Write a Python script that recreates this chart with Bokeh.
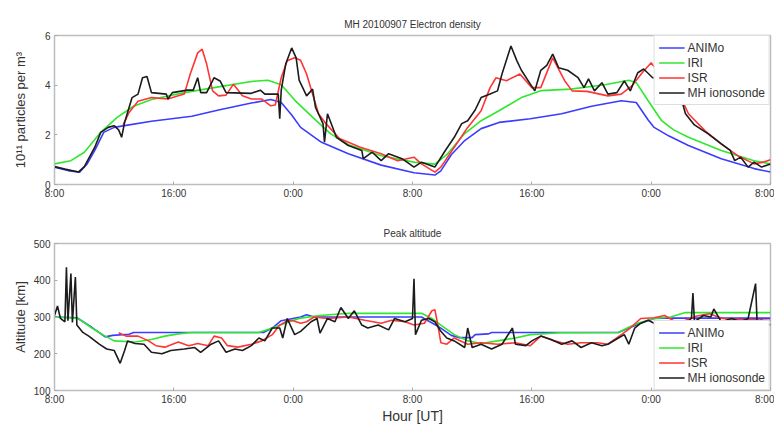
from bokeh.plotting import figure
from bokeh.layouts import column
from bokeh.models import FixedTicker, Legend, LegendItem, Range1d
from bokeh.embed import file_html
from bokeh.resources import INLINE

# ---------------- data ----------------
tick_hours = [0, 8, 16, 24, 32, 40, 48]
tick_labels = ["8:00", "16:00", "0:00", "8:00", "16:00", "0:00", "8:00"]
series_names = ["ANIMo", "IRI", "ISR", "MH ionosonde"]

# Electron density (1e11 m^-3)
ne_animo_h = [0, 0.9, 1.7, 2.2, 2.7, 3.3, 4.0, 4.7, 6.5, 9.2, 11.0, 13.2, 14.5, 15.2, 15.9, 16.5, 17.9,
              19.7, 21.9, 24.1, 25.5, 25.9, 26.6, 27.5, 28.6, 29.8, 31.9, 34.0, 36.0, 38.0, 39.0, 39.8,
              40.2, 41.2, 42.5, 44.7, 46.9, 48]
ne_animo = [0.70, 0.56, 0.50, 0.84, 1.37, 2.10, 2.30, 2.37, 2.55, 2.75, 3.00, 3.28, 3.42, 3.30, 2.80, 2.30,
            1.70, 1.24, 0.78, 0.47, 0.38, 0.55, 1.20, 1.77, 2.25, 2.50, 2.65, 2.85, 3.15, 3.37, 3.30, 2.60,
            2.30, 1.95, 1.57, 1.04, 0.64, 0.50]

ne_iri_h = [0, 1.1, 2.0, 3.1, 4.2, 5.3, 6.5, 8.7, 11.0, 13.2, 14.3, 15.2, 16.1, 17.4, 18.5, 19.7, 21.9,
            24.1, 25.5, 26.3, 27.5, 28.6, 29.8, 31.3, 32.6, 34.6, 36.9, 38.5, 39.0, 39.8, 40.7, 41.5,
            42.5, 44.7, 46.9, 48]
ne_iri = [0.83, 0.96, 1.30, 2.10, 2.70, 3.15, 3.42, 3.70, 3.93, 4.15, 4.20, 4.02, 3.40, 2.65, 2.05, 1.60,
          1.16, 0.90, 0.82, 1.20, 2.05, 2.57, 2.97, 3.50, 3.78, 3.84, 4.02, 4.20, 4.10, 3.37, 2.57, 2.20,
          1.90, 1.37, 0.96, 0.83]

ne_isr_h = [4.6, 5.0, 5.6, 6.5, 7.6, 8.3, 8.7, 9.1, 9.6, 9.9, 10.2, 10.6, 11.0, 11.5, 12.0, 12.6, 13.2,
            13.9, 14.5, 14.8, 15.2, 15.6, 16.1, 16.5, 16.9, 17.3, 17.7, 18.2, 19.1, 20.5, 21.9, 23.0,
            24.1, 24.6, 25.5, 25.9, 26.8, 27.7, 28.6, 29.2, 29.6, 30.3, 31.2, 32.0, 32.6, 33.4, 34.2,
            34.7, 35.7, 37.1, 38.0, 38.7, 39.4, 40.0, 40.5, 41.2, 42.0, 42.5, 43.6, 44.7, 45.8, 46.9,
            47.5, 48]
ne_isr = [2.40, 2.90, 3.35, 3.50, 3.44, 3.57, 3.64, 4.45, 5.30, 5.45, 4.85, 3.77, 3.57, 3.60, 4.04, 3.57,
          3.44, 3.44, 3.17, 3.20, 4.30, 4.98, 5.10, 5.00, 4.45, 3.64, 2.85, 2.45, 1.85, 1.50, 1.24, 0.96,
          1.10, 0.83, 0.50, 0.70, 1.50, 2.30, 2.97, 3.90, 4.30, 4.18, 4.45, 3.90, 3.90, 5.10, 4.18, 3.77,
          3.75, 3.57, 3.64, 3.97, 4.50, 4.90, 4.50, 4.00, 3.50, 2.85, 2.17, 1.64, 1.16, 0.83, 0.90, 1.00]

ne_mh_h = [0, 0.7, 1.6, 2.0, 2.7, 3.1, 3.6, 4.0, 4.3, 4.5, 4.7, 5.0, 5.2, 5.6, 5.9, 6.2, 6.5, 7.5, 7.6,
           7.9, 8.9, 9.3, 9.6, 9.8, 10.2, 10.7, 11.1, 11.5, 13.2, 13.8, 14.1, 15.0, 15.1, 15.2, 15.5,
           15.9, 16.2, 16.4, 16.9, 17.3, 17.5, 18.0, 18.1, 18.3, 18.9, 19.7, 20.6, 20.7, 21.3, 21.9,
           22.4, 23.3, 24.1, 24.6, 25.5, 26.2, 26.8, 27.3, 27.7, 28.2, 28.6, 29.2, 29.7, 30.0, 30.6,
           31.0, 31.3, 31.9, 32.2, 32.6, 33.0, 33.4, 33.8, 34.4, 35.1, 35.5, 35.8, 36.2, 36.7, 37.1,
           37.7, 38.2, 38.6, 39.1, 39.5, 40.1, 41.0, 42.0, 42.3, 42.9, 43.8, 44.7, 45.3, 45.6, 46.0,
           46.5, 46.9, 47.4, 48]
ne_mh = [0.72, 0.62, 0.50, 0.72, 1.50, 2.10, 2.30, 2.37, 2.20, 1.90, 2.50, 3.10, 3.50, 3.64, 4.30, 4.35,
         3.70, 3.64, 3.44, 3.70, 3.80, 3.80, 4.30, 3.70, 3.70, 4.30, 4.17, 3.70, 3.67, 3.80, 3.64, 3.64,
         2.65, 3.80, 4.85, 5.50, 5.10, 4.20, 3.57, 3.84, 3.10, 2.45, 1.70, 2.85, 1.90, 1.57, 1.37, 1.04,
         1.30, 0.96, 1.24, 1.04, 0.70, 0.90, 0.70, 1.37, 1.90, 2.45, 2.57, 3.00, 3.50, 3.64, 3.77, 4.45,
         5.58, 4.98, 4.60, 4.04, 3.77, 4.60, 4.80, 5.25, 4.70, 4.60, 4.30, 3.90, 4.25, 3.77, 4.10, 3.64,
         3.70, 4.17, 3.77, 4.50, 4.65, 4.30, 4.20, 3.50, 2.85, 2.40, 2.05, 1.64, 1.37, 0.96, 1.10, 0.70,
         0.90, 0.70, 0.83]

# Peak altitude (km)
hm_animo_h = [0, 1.5, 2.5, 3.4, 3.9, 5.0, 5.3, 14.0, 14.6, 15.2, 16.5, 16.9, 17.4, 24.6, 25.7, 26.6,
              27.1, 28.0, 28.2, 29.1, 29.3, 37.8, 38.5, 39.3, 40.2, 40.7, 48]
hm_animo = [300, 298, 272, 246, 250, 253, 258, 258, 270, 290, 300, 306, 300, 300, 275, 250, 244, 244,
            252, 254, 258, 258, 270, 283, 296, 297, 297]

hm_iri_h = [0, 1.6, 2.5, 3.4, 4.0, 5.4, 6.5, 7.4, 8.3, 9.2, 13.7, 14.6, 15.5, 16.5, 17.8, 19.7, 24.6,
            25.3, 25.9, 26.8, 27.7, 28.6, 29.7, 30.9, 31.9, 33.9, 37.8, 38.5, 39.1, 40.2, 41.3, 42.3, 48]
hm_iri = [300, 296, 270, 248, 235, 232, 239, 248, 254, 258, 258, 270, 284, 297, 304, 310, 310, 296, 278,
          252, 235, 228, 235, 243, 252, 257, 258, 272, 283, 296, 300, 312, 312]

hm_isr_h = [4.3, 4.8, 5.6, 6.3, 6.8, 7.4, 8.3, 9.0, 9.6, 10.3, 10.7, 11.2, 11.6, 12.3, 13.2, 13.9, 14.6,
            15.1, 15.5, 15.9, 16.5, 16.9, 17.4, 18.3, 19.7, 20.8, 21.9, 22.6, 23.5, 24.1, 24.8, 25.3,
            25.5, 25.7, 25.9, 26.3, 26.8, 27.7, 28.6, 29.7, 30.9, 31.9, 32.6, 33.5, 34.4, 35.3, 36.4,
            37.1, 38.0, 38.6, 39.3, 40.2, 40.9, 41.8, 43.0, 43.9, 44.8, 45.9, 48]
hm_isr = [257, 248, 248, 235, 222, 218, 232, 222, 228, 222, 248, 243, 222, 218, 226, 235, 252, 278, 287,
          291, 283, 287, 300, 296, 300, 291, 283, 291, 287, 278, 283, 317, 320, 278, 230, 226, 243, 226,
          230, 226, 230, 222, 248, 235, 226, 230, 230, 226, 252, 270, 296, 298, 304, 283, 302, 309, 296,
          294, 291]

hm_mh_h = [0, 0.2, 0.4, 0.7, 0.8, 0.9, 1.1, 1.2, 1.4, 1.5, 1.9, 2.3, 3.0, 3.5, 4.0, 4.4, 4.7, 4.9, 5.4,
           6.0, 6.5, 7.2, 7.8, 8.7, 9.4, 9.8, 10.5, 11.0, 11.5, 12.1, 12.6, 13.2, 13.7, 14.1, 14.6, 15.1,
           15.3, 15.6, 16.1, 16.5, 17.2, 17.6, 17.8, 18.3, 18.8, 19.2, 19.7, 20.1, 20.6, 21.0, 21.7,
           22.4, 22.8, 23.5, 24.0, 24.1, 24.2, 24.6, 25.1, 25.5, 25.9, 26.3, 26.8, 27.5, 27.7, 28.0,
           28.6, 29.3, 30.0, 30.7, 30.9, 31.6, 32.0, 32.6, 33.3, 34.0, 34.7, 35.3, 36.0, 36.7, 37.1,
           37.8, 38.2, 38.5, 38.9, 39.3, 39.8, 40.2, 40.7, 41.3, 42.0, 42.4, 42.7, 42.8, 42.9, 43.5,
           44.0, 44.2, 44.7, 45.4, 46.0, 46.5, 47.0, 47.1, 47.4, 48]
hm_mh = [304, 330, 296, 287, 435, 290, 418, 285, 409, 278, 258, 248, 226, 213, 209, 174, 209, 235, 228,
         226, 204, 200, 209, 213, 217, 204, 226, 235, 204, 213, 209, 222, 243, 235, 270, 270, 243, 296,
         252, 261, 287, 296, 256, 296, 287, 326, 296, 317, 278, 270, 278, 265, 296, 287, 296, 404, 252,
         291, 296, 287, 261, 243, 235, 217, 270, 217, 226, 213, 226, 270, 226, 222, 235, 248, 239, 226,
         235, 217, 230, 222, 226, 243, 252, 226, 270, 283, 291, 283, 277, 274, 283, 287, 296, 365, 287,
         304, 300, 322, 287, 296, 287, 296, 391, 287, 291, 278]

# ---------------- styling ----------------
COLORS = ["#3c3cff", "#2ee82e", "#ff3535", "#1c1c1c"]
FONT = "Liberation Sans"
TXT = "#333333"
AX = "#bdbdbd"


def make_fig(height, title, ylabel, yr, yticks, top, bottom, title_standoff, ylabel_standoff,
             xlabel=None):
    p = figure(width=774, height=height, x_range=Range1d(0, 48), y_range=Range1d(*yr),
               output_backend="svg", toolbar_location=None,
               min_border_left=54, min_border_right=4, min_border_top=top, min_border_bottom=bottom)
    p.title.text = title
    p.title.align = "center"
    p.title.text_font = FONT
    p.title.text_font_size = "10px"
    p.title.text_font_style = "normal"
    p.title.text_color = TXT
    p.title.standoff = title_standoff
    p.grid.visible = False
    p.outline_line_color = AX
    p.outline_line_width = 1.5
    p.background_fill_color = "white"
    p.border_fill_color = "white"
    for ax in (p.xaxis[0], p.yaxis[0]):
        ax.axis_line_color = AX
        ax.major_tick_line_color = "#aaaaaa"
        ax.major_tick_in = 3
        ax.major_tick_out = 0
        ax.minor_tick_line_color = None
        ax.major_label_text_font = FONT
        ax.major_label_text_font_size = "10px"
        ax.major_label_text_color = TXT
        ax.axis_label_text_font = FONT
        ax.axis_label_text_font_style = "normal"
        ax.axis_label_text_color = TXT
    p.xaxis.ticker = FixedTicker(ticks=tick_hours)
    p.xaxis.major_label_overrides = {h: lab for h, lab in zip(tick_hours, tick_labels)}
    p.xaxis.major_label_standoff = 3
    p.yaxis.ticker = FixedTicker(ticks=yticks)
    p.yaxis.major_label_standoff = 4
    p.yaxis.axis_label = ylabel
    p.yaxis.axis_label_text_font_size = "13px"
    p.yaxis.axis_label_standoff = ylabel_standoff
    if xlabel:
        p.xaxis.axis_label = xlabel
        p.xaxis.axis_label_text_font_size = "14px"
        p.xaxis.axis_label_standoff = 0
    return p


def add_series(p, data, loc):
    items = []
    for (hx, vy), name, c in zip(data, series_names, COLORS):
        r = p.line(hx, vy, line_color=c, line_width=1.6)
        items.append(LegendItem(label=name, renderers=[r]))
    leg = Legend(items=items, location=loc, margin=0, padding=4, spacing=0,
                 glyph_width=26, glyph_height=15, label_standoff=3,
                 label_text_font=FONT, label_text_font_size="12px", label_text_color=TXT,
                 label_height=15, border_line_color=AX, border_line_width=1.5,
                 background_fill_alpha=1.0)
    p.add_layout(leg)


p1 = make_fig(214, "MH 20100907 Electron density", "10\u00b9\u00b9 particles per m\u00b3",
              (0, 6), [0, 2, 4, 6], 35, 30, 12, 14)
add_series(p1, [(ne_animo_h, ne_animo), (ne_iri_h, ne_iri), (ne_isr_h, ne_isr), (ne_mh_h, ne_mh)],
           "top_right")

p2 = make_fig(212, "Peak altitude", "Altitude [km]", (100, 500), [100, 200, 300, 400, 500], 29, 32,
              9, 3, xlabel="Hour [UT]")
add_series(p2, [(hm_animo_h, hm_animo), (hm_iri_h, hm_iri), (hm_isr_h, hm_isr), (hm_mh_h, hm_mh)],
           "bottom_right")

layout = column(p1, p2, spacing=0)
open("out.html", "w").write(file_html(layout, INLINE))
